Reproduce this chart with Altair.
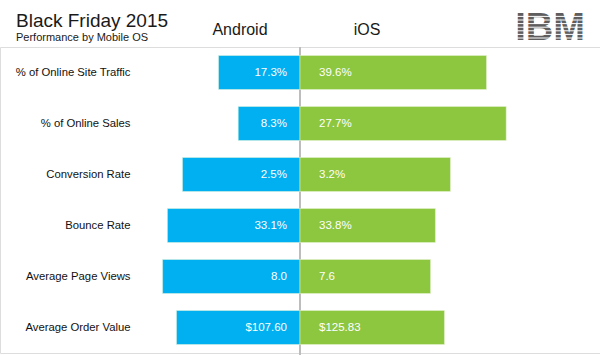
import altair as alt
import pandas as pd

metrics = ["% of Online Site Traffic", "% of Online Sales", "Conversion Rate",
           "Bounce Rate", "Average Page Views", "Average Order Value"]
android_values = [17.3, 8.3, 2.5, 33.1, 8.0, 107.60]
ios_values = [39.6, 27.7, 3.2, 33.8, 7.6, 125.83]
android_labels = ["17.3%", "8.3%", "2.5%", "33.1%", "8.0", "$107.60"]
ios_labels = ["39.6%", "27.7%", "3.2%", "33.8%", "7.6", "$125.83"]

rows = []
for m, v, l in zip(metrics, android_values, android_labels):
    rows.append({"metric": m, "os": "Android", "value": v, "label": l})
for m, v, l in zip(metrics, ios_values, ios_labels):
    rows.append({"metric": m, "os": "iOS", "value": v, "label": l})
df = pd.DataFrame(rows)

FONT = "Liberation Sans"
LIM = 300 / 268

base = alt.Chart(df).transform_joinaggregate(
    total="sum(value)", groupby=["metric"]
).transform_calculate(
    share="datum.value / datum.total * (datum.os == 'Android' ? -1 : 1)"
)

yenc = alt.Y("metric:N", sort=metrics,
             scale=alt.Scale(paddingInner=0.333, paddingOuter=0.1665),
             axis=alt.Axis(title=None, orient="left", offset=-135, domain=False,
                           ticks=False, labelPadding=5, labelFont=FONT,
                           labelFontSize=11.3, labelColor="#111111", labelAlign="right"))
xscale = alt.Scale(domain=[-LIM, LIM])

bars = base.mark_bar(stroke="#e8f4d8", strokeWidth=0.5).encode(
    x=alt.X("share:Q", stack=None, scale=xscale, axis=None),
    x2=alt.datum(0),
    y=yenc,
    color=alt.Color("os:N", scale=alt.Scale(domain=["Android", "iOS"],
                                            range=["#00b0f0", "#8dc63f"]), legend=None),
)

text_a = base.transform_filter("datum.os == 'Android'").transform_calculate(zero="0").mark_text(
    align="right", baseline="middle", dx=-13, font=FONT, fontSize=11.5, color="white"
).encode(x=alt.X("zero:Q", scale=xscale, axis=None),
         y=alt.Y("metric:N", sort=metrics), text="label:N")

text_i = base.transform_filter("datum.os == 'iOS'").transform_calculate(zero="0").mark_text(
    align="left", baseline="middle", dx=19, font=FONT, fontSize=11.5, color="white"
).encode(x=alt.X("zero:Q", scale=xscale, axis=None),
         y=alt.Y("metric:N", sort=metrics), text="label:N")

center = alt.Chart(pd.DataFrame({"z": [0]})).mark_rule(color="#bdbdbd", strokeWidth=2).encode(
    x=alt.X("z:Q", scale=xscale, axis=None), y=alt.value(0), y2=alt.value(308))

def label(txt, x, y, size, align="left", weight="normal", color="#1a1a1a"):
    return alt.Chart(pd.DataFrame({"t": [txt]})).mark_text(
        align=align, baseline="alphabetic", font=FONT, fontSize=size,
        fontWeight=weight, color=color
    ).encode(x=alt.value(x), y=alt.value(y), text="t:N")

title = label("Black Friday 2015", 16, 27 - 47, 19)
subtitle = label("Performance by Mobile OS", 16, 41 - 47, 11)
h_android = label("Android", 240, 35 - 47, 16, align="center")
h_ios = label("iOS", 367, 35 - 47, 16, align="center")
ibm = label("IBM", 550, 40 - 47, 38, align="center", weight="bold", color="#5e5e5e")

stripe_rows = pd.DataFrame({"s": list(range(7))})
stripes = alt.Chart(stripe_rows).transform_calculate(
    yy="13 - 47 + datum.s * 3.6 + 3.4"
).mark_rule(color="white", strokeWidth=1).encode(
    x=alt.value(515), x2=alt.value(586), y=alt.Y("yy:Q", scale=None))

chart = alt.layer(center, bars, text_a, text_i, title, subtitle, h_android, h_ios, ibm, stripes).properties(
    width=600, height=306,
    autosize=alt.AutoSizeParams(type="none"),
    padding={"top": 47, "left": 0, "right": 0, "bottom": 2},
).configure_view(stroke=None).configure(background="white")

chart.save("out.html", embed_options={"renderer": "svg", "actions": False})
